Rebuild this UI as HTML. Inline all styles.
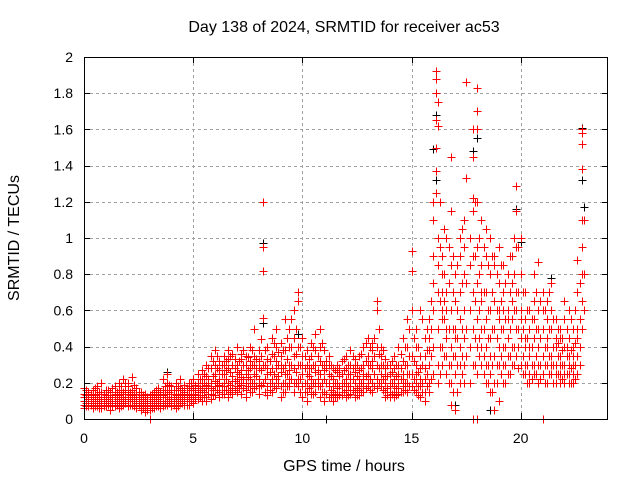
<!DOCTYPE html>
<html><head><meta charset="utf-8"><style>
body{margin:0;background:#fff;}
svg{display:block;font-family:"Liberation Sans",sans-serif;}
</style></head><body>
<svg id="chart" width="640" height="480">
<text x="344" y="32" text-anchor="middle" font-size="16">Day 138 of 2024, SRMTID for receiver ac53</text>
<text x="344" y="471" text-anchor="middle" font-size="16">GPS time / hours</text>
<text transform="translate(19,238) rotate(-90)" text-anchor="middle" font-size="16">SRMTID / TECUs</text>
<g id="grid"></g><g id="black"></g><g id="red"></g><g id="axes"></g>
</svg>
<script>
const xTicks=[0,5,10,15,20];
const yTicks=[0,0.2,0.4,0.6,0.8,1,1.2,1.4,1.6,1.8,2];
const yTickLabels=["0","0.2","0.4","0.6","0.8","1","1.2","1.4","1.6","1.8","2"];
// each row: [hour, srmtid values...]
const redSeries=[
[0.0,.17,.12,.08,.1,.14,.06],[0.2,.1,.13,.07,.09,.15,.11],[0.4,.08,.12,.1,.16,.06,.09],[0.6,.12,.09,.14,.07,.18,.1],
[0.8,.1,.15,.08,.12,.06,.2],[1.0,.09,.13,.11,.07,.16,.1],[1.2,.12,.08,.15,.1,.05,.13],[1.4,.1,.14,.07,.18,.12,.09],
[1.6,.13,.09,.16,.11,.06,.2],[1.8,.1,.15,.12,.08,.22,.11],[2.0,.14,.1,.18,.07,.12,.2],[2.2,.12,.08,.16,.1,.23,.13],
[2.4,.09,.14,.11,.17,.06,.1],[2.6,.07,.11,.09,.13,.05,.15],[2.8,.08,.12,.06,.1,.04,.14],[3.0,.1,.07,.13,.05,.09,.0],
[3.2,.09,.12,.06,.15,.1,.08],[3.4,.11,.08,.14,.17,.07,.12],[3.6,.13,.09,.16,.1,.22,.07],[3.8,.12,.16,.08,.2,.1,.25],
[4.0,.1,.14,.07,.18,.12,.09],[4.2,.13,.08,.16,.11,.2,.06],[4.4,.12,.17,.09,.14,.1,.22],[4.6,.1,.15,.12,.08,.19,.13],
[4.8,.14,.1,.18,.12,.08,.2],[5.0,.12,.17,.09,.22,.14,.1],[5.2,.15,.2,.11,.25,.13,.18],[5.4,.13,.18,.1,.22,.16,.27],
[5.6,.17,.12,.24,.19,.1,.3],[5.8,.2,.14,.28,.17,.11,.35],[6.0,.18,.25,.13,.3,.21,.38],[6.2,.22,.15,.32,.19,.27,.12],
[6.4,.25,.18,.35,.14,.3,.2],[6.6,.2,.28,.16,.33,.12,.38],[6.8,.24,.17,.3,.21,.36,.14],[7.0,.22,.3,.15,.26,.4,.18],
[7.2,.27,.19,.33,.14,.23,.36],[7.4,.2,.3,.16,.25,.35,.12],[7.6,.28,.18,.4,.22,.15,.32],[7.8,.25,.35,.17,.3,.5,.2],
[8.0,.22,.32,.14,.28,.38,.18],[8.2,.3,1.2,.95,.82,.2,.56],[8.4,.25,.4,.18,.33,.13,.28],[8.6,.28,.2,.36,.15,.45,.22],
[8.8,.32,.22,.4,.17,.28,.5],[9.0,.26,.35,.18,.42,.3,.12],[9.2,.3,.2,.55,.25,.38,.15],[9.4,.22,.4,.3,.18,.5,.27],
[9.6,.28,.45,.2,.35,.15,.6],[9.8,.7,.65,.3,.22,.4,.18],[10.0,.25,.35,.18,.3,.45,.12],[10.2,.2,.3,.15,.38,.25,.1],
[10.4,.28,.18,.35,.22,.42,.14],[10.6,.3,.2,.38,.15,.26,.47],[10.8,.25,.4,.18,.32,.12,.5],[11.0,.22,.3,.15,.38,.27,.1],
[11.2,.18,.25,.12,.3,.2,.35],[11.4,.15,.22,.1,.28,.18,.13],[11.6,.2,.14,.26,.12,.17,.3],[11.8,.18,.25,.13,.2,.32,.15],
[12.0,.22,.16,.28,.12,.35,.2],[12.2,.25,.18,.3,.14,.22,.38],[12.4,.2,.3,.15,.26,.12,.33],[12.6,.18,.27,.13,.22,.35,.16],
[12.8,.22,.15,.3,.18,.4,.25],[13.0,.25,.18,.35,.2,.3,.45],[13.2,.28,.2,.38,.15,.32,.42],[13.4,.3,.22,.4,.6,.65,.17],
[13.6,.25,.35,.18,.3,.2,.4],[13.8,.2,.15,.28,.12,.24,.33],[14.0,.18,.25,.12,.3,.2,.15],[14.2,.22,.15,.28,.12,.35,.18],
[14.4,.2,.3,.14,.25,.4,.17],[14.6,.25,.18,.32,.15,.45,.22],[14.8,.3,.2,.4,.15,.55,.25],[15.0,.93,.82,.25,.35,.18,.6],
[15.2,.2,.3,.15,.4,.25,.5],[15.4,.18,.28,.12,.35,.22,.6],[15.6,.22,.35,.15,.45,.28,.1],[15.8,.3,.45,.2,.55,.38,.15],
[16.0,.9,1.2,.6,.4,.75,.25,1.1],[16.1,1.92,1.88,1.8,1.65,1.5,1.37,1.25],[16.2,1.75,1.62,1.0,.85,.7,.5,.3,.2],
[16.4,.9,.7,.55,.4,.3,.6,.8],[16.6,.6,.45,.35,.7,.25,.5,1.0],[16.8,1.45,1.15,.85,.6,.4,.3,.2,.08],
[17.0,.65,.5,.35,.8,.25,.45,.05],[17.2,.55,.9,.4,.3,.7,.2,1.0],[17.4,.8,1.1,.6,.45,.3,.95,.2],[17.5,1.86,1.33,.75,.5,.35],
[17.8,1.6,1.45,1.22,1.15,.9,.7,.5,.3,0.0],[18.0,1.83,1.7,1.6,1.2,.95,.75,.55,.4,.25,0.0],[18.2,1.1,.85,.65,.5,.4,.3,.7],
[18.4,.9,.7,1.05,.55,.4,.3,.2],[18.6,1.0,.8,.6,.45,.35,.25,.15],[18.8,.85,.65,.9,.5,.35,.05,.2],[19.0,.95,.75,.55,.4,.6,.3,.1],
[19.2,.7,.5,.85,.4,.3,.6,.2],[19.4,.8,.6,.45,.35,.55,.25],[19.6,.75,.9,.55,.4,.3,.65],[19.8,1.29,1.15,.95,.7,.5,.35,.6],
[20.0,.8,1.0,.6,.45,.3,.55],[20.2,.55,.4,.3,.7,.25,.45],[20.4,.5,.35,.25,.6,.2,.4],[20.6,.65,.45,.3,.55,.25,.8],
[20.8,.87,.6,.4,.3,.5,.2],[21.0,.7,.5,.35,.25,.6,.0],[21.2,.55,.4,.3,.65,.2,.45],[21.4,.75,.5,.35,.25,.6,.3],
[21.6,.45,.3,.55,.2,.4,.25],[21.8,.5,.35,.25,.45,.2,.3],[22.0,.55,.4,.3,.2,.65,.25],[22.2,.45,.3,.6,.2,.35,.25],
[22.4,.5,.35,.25,.4,.2,.3],[22.6,.88,.7,.5,.35,.45,.25],[22.8,1.6,1.58,1.52,1.38,1.1,.95,.8,.65,.5],[22.9,1.1,.8,.6]
];
// intermediate samples (odd tenths of an hour)
const redSeries2=[
[0.1,.13,.09,.16,.07],[0.3,.11,.14,.08,.12],[0.5,.1,.07,.13,.17],[0.7,.09,.15,.11,.06],[0.9,.14,.1,.07,.12],
[1.1,.11,.16,.08,.13],[1.3,.09,.12,.17,.07],[1.5,.13,.08,.11,.15],[1.7,.1,.14,.18,.07],[1.9,.12,.09,.16,.2],
[2.1,.11,.15,.08,.13],[2.3,.1,.14,.19,.07],[2.5,.12,.08,.15,.1],[2.7,.09,.13,.06,.11],[2.9,.07,.1,.05,.12],
[3.1,.08,.11,.06,.14],[3.3,.1,.13,.07,.16],[3.5,.12,.09,.15,.06],[3.7,.1,.14,.18,.08],[3.9,.11,.15,.09,.19],
[4.1,.12,.08,.16,.1],[4.3,.1,.14,.07,.18],[4.5,.13,.09,.16,.11],[4.7,.11,.17,.08,.14],[4.9,.13,.1,.16,.2],
[5.1,.14,.11,.19,.16],[5.3,.12,.17,.22,.15],[5.5,.15,.2,.12,.25],[5.7,.14,.22,.18,.28],[5.9,.16,.24,.13,.32],
[6.1,.2,.16,.28,.35],[6.3,.18,.25,.3,.14],[6.5,.22,.16,.32,.27],[6.7,.19,.26,.35,.15],[6.9,.21,.28,.16,.33],
[7.1,.25,.17,.32,.2],[7.3,.22,.3,.17,.38],[7.5,.27,.18,.34,.23],[7.7,.2,.3,.38,.15],[7.9,.24,.33,.18,.28],
[8.1,.27,.19,.35,.44],[8.3,.22,.3,.15,.38],[8.5,.2,.32,.26,.16],[8.7,.25,.35,.18,.42],[8.9,.3,.2,.37,.24],
[9.1,.28,.38,.2,.15],[9.3,.25,.33,.45,.18],[9.5,.3,.22,.4,.55],[9.7,.26,.36,.2,.5],[9.9,.3,.22,.4,.15],
[10.1,.28,.2,.35,.15],[10.3,.24,.33,.17,.28],[10.5,.2,.3,.4,.14],[10.7,.27,.18,.35,.22],[10.9,.3,.2,.42,.15],
[11.1,.2,.28,.14,.32],[11.3,.16,.24,.12,.3],[11.5,.14,.2,.27,.12],[11.7,.18,.24,.13,.28],[11.9,.2,.27,.15,.33],
[12.1,.18,.25,.13,.3],[12.3,.22,.16,.28,.35],[12.5,.17,.24,.13,.3],[12.7,.2,.28,.15,.36],[12.9,.24,.17,.32,.42],
[13.1,.22,.3,.16,.4],[13.3,.25,.35,.18,.45],[13.5,.28,.2,.36,.5],[13.7,.22,.3,.16,.38],[13.9,.17,.24,.13,.3],
[14.1,.2,.14,.26,.32],[14.3,.17,.24,.13,.3],[14.5,.22,.15,.28,.36],[14.7,.2,.3,.16,.4],[14.9,.25,.18,.35,.5],
[15.1,.22,.32,.16,.45],[15.3,.18,.26,.13,.4],[15.5,.2,.3,.15,.55],[15.7,.25,.38,.18,.5],[15.9,.35,.5,.22,.65],
[16.3,1.2,.95,.65,.4,.25],[16.5,.8,.55,.35,.65,1.05],[16.7,.5,.75,.3,.95,.2],[16.9,.7,.5,.9,.35,.15],
[17.1,.6,.45,.85,.3,.15],[17.3,.75,.5,1.05,.35,.25],[17.7,.85,.6,1.0,.4,.2],[17.9,1.2,.9,.65,.45,.3],
[18.1,1.0,.8,.6,.45,.35],[18.3,.95,.7,.5,.35,.25],[18.5,.85,.6,.45,.3,.2],[18.7,.9,.7,.5,.3,.15],
[18.9,.8,.6,.45,.3,.2],[19.1,.85,.65,.5,.35,.25],[19.3,.75,.55,.4,.3,.2],[19.5,.9,.7,.5,.35,.25],
[19.7,1.0,.8,.6,.4,.3],[19.9,.95,.7,.5,.4,.28],[20.1,.7,.5,.35,.25],[20.3,.6,.45,.3,.2],[20.5,.55,.4,.3,.22],
[20.7,.7,.5,.35,.25],[20.9,.65,.45,.3,.22],[21.1,.6,.4,.3,.2],[21.3,.7,.5,.35,.25],[21.5,.55,.4,.3,.2],
[21.7,.5,.35,.25,.42],[21.9,.45,.3,.22,.38],[22.1,.5,.35,.25,.4],[22.3,.55,.38,.28,.2],[22.5,.6,.42,.3,.22],
[22.7,.75,.55,.4,.3]
];
const blackSeries=[
[3.8,.26],[8.2,.97,.53],[9.8,.47],[11.1,.0],[16.0,1.49],[16.1,1.68,1.32],[16.8,1.45],[17.0,.08],[17.8,1.48],
[18.0,1.55],[18.6,.05],[19.8,1.16],[20.0,.98],[21.4,.78],[22.8,1.61,1.32],[22.9,1.17]
];
const X=h=>84+h*(524/24), Y=v=>419-v*181;
const NS="http://www.w3.org/2000/svg";
const grid=document.getElementById('grid'),axes=document.getElementById('axes');
function mk(tag,attrs,parent){const e=document.createElementNS(NS,tag);for(const k in attrs)e.setAttribute(k,attrs[k]);parent.appendChild(e);return e;}
xTicks.forEach(t=>{
  const x=Math.round(X(t))+0.5;
  const gl=mk('line',{x1:x,x2:x,y1:57,y2:419,stroke:'#a0a0a0','stroke-dasharray':'3,3'},grid);
  
  
  mk('line',{x1:x,x2:x,y1:419,y2:413,stroke:'#000'},axes);
  mk('line',{x1:x,x2:x,y1:57,y2:63,stroke:'#000'},axes);
  const tx=mk('text',{x:X(t),y:443,'text-anchor':'middle','font-size':14},axes);
  tx.textContent=t;
  
  
});
yTicks.forEach((t,i)=>{
  const y=Math.round(Y(t))+0.5;
  const gl=mk('line',{x1:84,x2:608,y1:y,y2:y,stroke:'#a0a0a0','stroke-dasharray':'3,3'},grid);
  
  
  mk('line',{x1:84,x2:90,y1:y,y2:y,stroke:'#000'},axes);
  mk('line',{x1:602,x2:608,y1:y,y2:y,stroke:'#000'},axes);
  const tx=mk('text',{x:73,y:Y(t)+5,'text-anchor':'end','font-size':14},axes);
  tx.textContent=yTickLabels[i];
  
  
});
const fr=mk('rect',{x:84.5,y:57.5,width:523,height:362,fill:'none',stroke:'#000'},axes);


function plot(series,color,gid,name){
  const g=document.getElementById(gid);let d='';
  series.forEach(r=>{const x=Math.round(X(r[0]))+0.5;for(let i=1;i<r.length;i++){const y=Math.round(Y(r[i]))+0.5;d+=`M${x-4} ${y}h8M${x} ${y-4}v8`;}});
  const p=mk('path',{d:d,stroke:color,'stroke-width':1,fill:'none','shape-rendering':'crispEdges'},g);
  
  
}
plot(blackSeries,'#000','black','black-points');
plot(redSeries,'#ff0000','red','red-points');
plot(redSeries2,'#ff0000','red','red-points-intermediate');
</script>
</body></html>
